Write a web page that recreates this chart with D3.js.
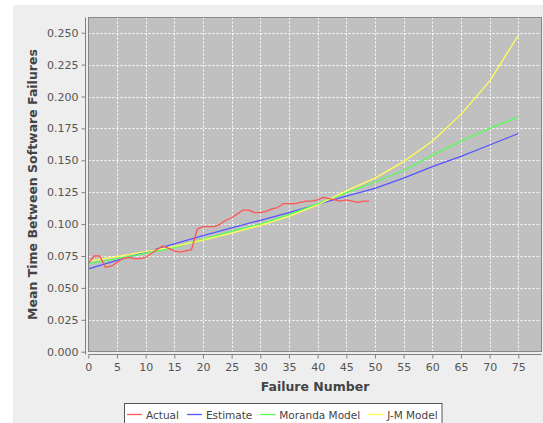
<!DOCTYPE html>
<html><head><meta charset="utf-8">
<script src="https://cdn.jsdelivr.net/npm/d3@7"></script>
<style>html,body{margin:0;padding:0;background:#fff;}svg{display:block;}</style>
</head><body>
<script>
// ---- data ----
const seriesNames = ["Actual", "Estimate", "Moranda Model", "J-M Model"];
const seriesColors = ["#ff5555", "#5555ff", "#55ff55", "#ffff55"];
const actualX = d3.range(0, 50);
const actualY = [0.069,0.075,0.075,0.066,0.067,0.070,0.073,0.074,0.073,0.073,
                 0.074,0.077,0.080,0.083,0.081,0.079,0.078,0.079,0.080,0.096,
                 0.098,0.098,0.098,0.100,0.103,0.105,0.108,0.111,0.111,0.109,
                 0.109,0.110,0.112,0.113,0.116,0.116,0.116,0.117,0.118,0.118,
                 0.119,0.121,0.120,0.119,0.118,0.119,0.118,0.117,0.118,0.118];
const modelX    = [0,5,10,15,20,25,30,35,40,45,50,55,60,65,70,75];
const estimateY = [0.065,0.0715,0.078,0.0845,0.091,0.097,0.103,0.109,0.1155,0.122,0.128,0.136,0.145,0.153,0.162,0.171];
const morandaY  = [0.069,0.073,0.077,0.0815,0.088,0.0945,0.100,0.1075,0.116,0.1245,0.133,0.142,0.154,0.165,0.175,0.184];
const jmY       = [0.071,0.0745,0.0785,0.0825,0.0875,0.093,0.099,0.106,0.115,0.126,0.136,0.149,0.165,0.186,0.212,0.248];
const xTicks = [0,5,10,15,20,25,30,35,40,45,50,55,60,65,70,75];
const yTicks = [0,0.025,0.05,0.075,0.1,0.125,0.15,0.175,0.2,0.225,0.25];
const xTitle = "Failure Number";
const yTitle = "Mean Time Between Software Failures";

// ---- layout ----
const W = 543, H = 423;
const plot = {l: 88.5, t: 17.5, r: 541.5, b: 351.5};
const svg = d3.select("body").append("svg").attr("width", W).attr("height", H);
svg.append("rect").attr("x", 13).attr("y", 5).attr("width", W - 13).attr("height", H - 5).attr("fill", "#eeeeee");

const x = d3.scaleLinear().domain([0, 75]).range([88.3, 518.3]);
const y = d3.scaleLinear().domain([0, 0.25]).range([351.7, 32.7]);

svg.append("rect").attr("x", plot.l).attr("y", plot.t)
  .attr("width", plot.r - plot.l).attr("height", plot.b - plot.t)
  .attr("fill", "#c0c0c0");

// gridlines
const grid = svg.append("g").attr("stroke", "#ffffff").attr("stroke-width", 1).attr("stroke-dasharray", "2,2");
xTicks.filter(d => d > 0).forEach(d => {
  grid.append("line").attr("x1", Math.round(x(d)) + 0.5).attr("x2", Math.round(x(d)) + 0.5)
    .attr("y1", plot.t).attr("y2", plot.b);
});
yTicks.filter(d => d > 0).forEach(d => {
  grid.append("line").attr("y1", Math.round(y(d)) + 0.5).attr("y2", Math.round(y(d)) + 0.5)
    .attr("x1", plot.l).attr("x2", plot.r);
});

// series
const line = d3.line().x(d => x(d[0])).y(d => y(d[1]));
const series = [
  d3.zip(actualX, actualY),
  d3.zip(modelX, estimateY),
  d3.zip(modelX, morandaY),
  d3.zip(modelX, jmY)
];
// draw order: models then actual on top? keep given order, actual last
[1, 2, 3, 0].forEach(i => {
  svg.append("path").datum(series[i]).attr("d", line)
    .attr("fill", "none").attr("stroke", seriesColors[i]).attr("stroke-width", 1.3)
    .attr("stroke-linejoin", "round");
});

// plot outline
svg.append("rect").attr("x", plot.l).attr("y", plot.t)
  .attr("width", plot.r - plot.l).attr("height", plot.b - plot.t)
  .attr("fill", "none").attr("stroke", "#888888").attr("stroke-width", 1);

// axes
const yAxis = d3.axisLeft(y).tickValues(yTicks).tickFormat(d3.format(".3f")).tickSize(4).tickPadding(3);
const gy = svg.append("g").attr("transform", "translate(85.5,0)").call(yAxis);
const xAxis = d3.axisBottom(x).tickValues(xTicks).tickFormat(d3.format("d")).tickSize(4).tickPadding(5);
const gx = svg.append("g").attr("transform", "translate(0,354.5)").call(xAxis);
[gx, gy].forEach(g => {
  g.select(".domain").attr("stroke", "#808080");
  g.selectAll(".tick line").attr("stroke", "#808080");
  g.selectAll(".tick text").attr("fill", "#555555")
    .style("font-family", "DejaVu Sans").style("font-size", "11px");
});
gy.select(".domain").attr("d", `M-4,${plot.t}H0V${plot.b + 3}H-4`).attr("d", `M0,${plot.t}V${plot.b + 3}`);
gx.select(".domain").attr("d", `M${plot.l},0H${plot.r}`);

// titles
svg.append("text").attr("x", (plot.l + plot.r) / 2).attr("y", 391)
  .attr("text-anchor", "middle").attr("fill", "#444444")
  .style("font-family", "DejaVu Sans").style("font-weight", "bold").style("font-size", "12.5px")
  .text(xTitle);
svg.append("text").attr("transform", `translate(37,${(plot.t + plot.b) / 2}) rotate(-90)`)
  .attr("text-anchor", "middle").attr("fill", "#444444")
  .style("font-family", "DejaVu Sans").style("font-weight", "bold").style("font-size", "12.5px")
  .text(yTitle);

// legend
const lg = svg.append("g");
const box = lg.append("rect").attr("x", 124.5).attr("y", 403.5).attr("height", 30)
  .attr("fill", "#ffffff").attr("stroke", "#555555").attr("stroke-width", 1);
let cx = 127;
seriesNames.forEach((name, i) => {
  lg.append("line").attr("x1", cx).attr("x2", cx + 15).attr("y1", 414.5).attr("y2", 414.5)
    .attr("stroke", seriesColors[i]).attr("stroke-width", 1.3);
  const t = lg.append("text").attr("x", cx + 19).attr("y", 418.5).attr("fill", "#444444")
    .style("font-family", "DejaVu Sans").style("font-size", "10.5px").text(name);
  cx += 19 + t.node().getComputedTextLength() + 8;
});
box.attr("width", 442 - 124.5);
</script>
</body></html>
